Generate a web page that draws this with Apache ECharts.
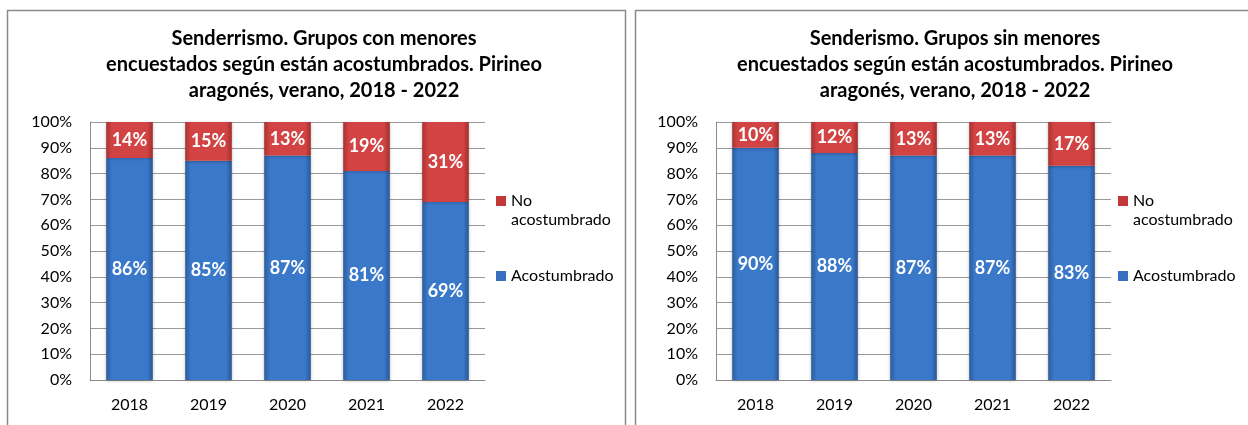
<!DOCTYPE html>
<html><head><meta charset="utf-8">
<script src="https://cdn.jsdelivr.net/npm/echarts@6/dist/echarts.min.js"></script>
<style>html,body{margin:0;padding:0;background:#fff}#c{width:1248px;height:425px}</style>
</head><body><div id="c"></div>
<script>
const years = ['2018','2019','2020','2021','2022'];
const conAcost = [86,85,87,81,69];
const conNoAcost = [14,15,13,19,31];
const sinAcost = [90,88,87,87,83];
const sinNoAcost = [10,12,13,13,17];
const titleCon = 'Senderrismo. Grupos con menores\nencuestados según están acostumbrados. Pirineo\naragonés, verano, 2018 - 2022';
const titleSin = 'Senderismo. Grupos sin menores\nencuestados según están acostumbrados. Pirineo\naragonés, verano, 2018 - 2022';

const FONT = 'Lato';
const blue = new echarts.graphic.LinearGradient(0,0,1,0,[
  {offset:0,color:'#2d5c9c'},{offset:0.12,color:'#3a78c9'},{offset:0.88,color:'#3a78c9'},{offset:1,color:'#2a5795'}]);
const red = new echarts.graphic.LinearGradient(0,0,1,0,[
  {offset:0,color:'#a83232'},{offset:0.12,color:'#d24343'},{offset:0.88,color:'#d24343'},{offset:1,color:'#a22e2e'}]);

const chart = echarts.init(document.getElementById('c'));
const grids = [{left:90, width:395, top:122, height:258},{left:716, width:395, top:122, height:258}];
function xAx(i){return {type:'category',gridIndex:i,data:years,
  axisLine:{lineStyle:{color:'#8c8c8c'}},axisTick:{show:false},
  axisLabel:{color:'#000',fontFamily:FONT,fontSize:16,margin:17}};}
function yAx(i){return {type:'value',gridIndex:i,min:0,max:100,interval:10,
  axisLine:{show:true,lineStyle:{color:'#8c8c8c'}},axisTick:{show:false},
  splitLine:{lineStyle:{color:'#9a9a9a',width:1}},
  axisLabel:{color:'#000',fontFamily:FONT,fontSize:16,margin:18,formatter:v=>v+'%'}};}
const lbl = {show:true,position:'inside',color:'#fff',fontFamily:FONT,fontWeight:'bold',fontSize:18,formatter:p=>p.value+'%'};
function ser(name,data,i,color){return {name,type:'bar',stack:'s'+i,xAxisIndex:i,yAxisIndex:i,data,
  barWidth:'59%',itemStyle:{color,shadowColor:'rgba(0,0,0,0.25)',shadowBlur:3,shadowOffsetY:1},label:lbl};}
const iconNo = 'path://M0,0h10v10h-10zM0,27.99h0.01v0.01h-0.01z';
const iconA = 'path://M0,0h0.01v0.01h-0.01zM0,9h10v10h-10zM0,27.99h0.01v0.01h-0.01z';
function leg(left){return {orient:'vertical',left,top:186,itemWidth:10,itemHeight:28,itemGap:33,
  data:[{name:'No acostumbrado',icon:iconNo,itemStyle:{color:'#c23838'}},{name:'Acostumbrado',icon:iconA,itemStyle:{color:'#3670bf'}}],
  formatter:n=>n==='No acostumbrado'?'No\nacostumbrado':n,
  textStyle:{color:'#000',fontFamily:FONT,fontSize:16,lineHeight:19},selectedMode:false};}
const tStyle = {fontFamily:FONT,fontWeight:'bold',fontSize:20,lineHeight:26,color:'#000'};
chart.setOption({
  animation:false,
  title:[
    {text:titleCon,left:319,top:21,textAlign:'center',textStyle:tStyle},
    {text:titleSin,left:950,top:21,textAlign:'center',textStyle:tStyle}
  ],
  graphic:[
    {type:'rect',shape:{x:7.5,y:10.5,width:618,height:430},style:{fill:'none',stroke:'#8a8a8a',lineWidth:1.5},silent:true,z:-1},
    {type:'rect',shape:{x:635.5,y:10.5,width:700,height:430},style:{fill:'none',stroke:'#8a8a8a',lineWidth:1.5},silent:true,z:-1}
  ],
  legend:[leg(491),leg(1113)],
  grid:grids,
  xAxis:[xAx(0),xAx(1)],
  yAxis:[yAx(0),yAx(1)],
  series:[
    ser('Acostumbrado',conAcost,0,blue),
    ser('No acostumbrado',conNoAcost,0,red),
    ser('Acostumbrado',sinAcost,1,blue),
    ser('No acostumbrado',sinNoAcost,1,red)
  ]
});
</script></body></html>
